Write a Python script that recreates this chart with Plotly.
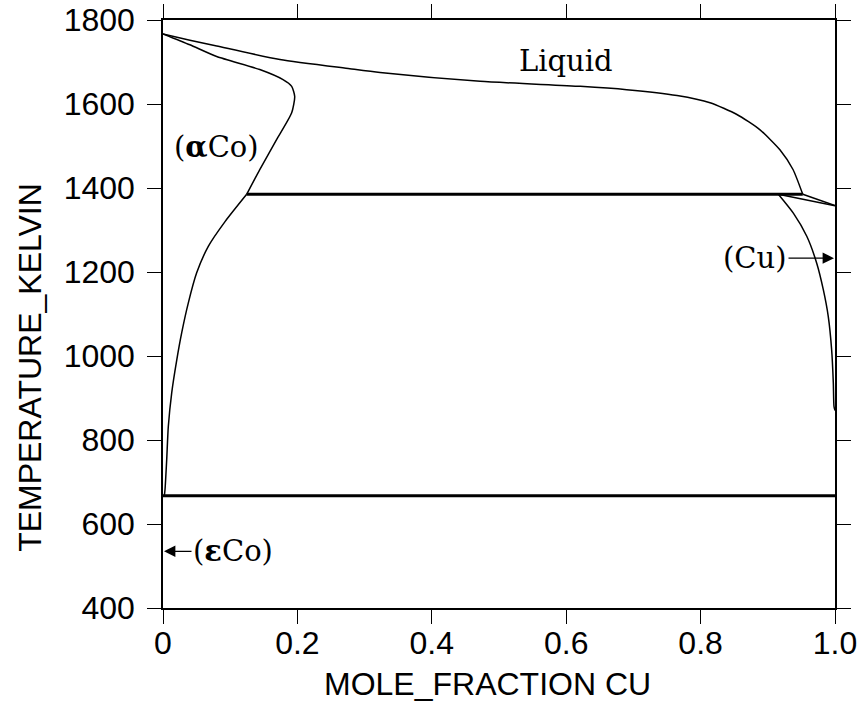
import plotly.graph_objects as go

# ---- data (mole fraction Cu, temperature K) ----
liq_x = [0, 0.04, 0.08, 0.174, 0.278, 0.323, 0.472, 0.621, 0.690, 0.765, 0.814,
         0.854, 0.888, 0.918, 0.9375, 0.952]
liq_T = [1767, 1752, 1738, 1706, 1684, 1675, 1654, 1642, 1634, 1620, 1603,
         1575, 1539, 1491, 1444, 1385]

liqCu_x = [0.952, 1.0]
liqCu_T = [1385, 1358]

solA_x = [0, 0.04, 0.0799, 0.144, 0.1786, 0.1915, 0.196, 0.1915, 0.169, 0.144, 0.1245]
solA_T = [1767, 1741, 1713, 1682, 1658, 1642, 1618, 1579, 1515, 1444, 1385]

solvA_x = [0.1245, 0.0923, 0.0674, 0.0501, 0.0376, 0.0278, 0.0205, 0.013, 0.0079,
           0.0055, 0.003, 0.002]
solvA_T = [1385, 1320, 1261, 1198, 1126, 1055, 991, 913, 832, 753, 682, 667]

solCu_x = [0.9157, 1.0]
solCu_T = [1385, 1358]

solvCu_x = [0.9157, 0.938, 0.958, 0.9728, 0.9826, 0.99, 0.995, 0.9975, 0.9985, 1.0]
solvCu_T = [1385, 1340, 1285, 1221, 1158, 1094, 1015, 936, 880, 870]

perit_x = [0.1245, 0.952]
perit_T = [1385, 1385]

low_x = [0, 1.0]
low_T = [667, 667]

x_ticks = [0, 0.2, 0.4, 0.6, 0.8, 1.0]
x_ticktext = ["0", "0.2", "0.4", "0.6", "0.8", "1.0"]
y_ticks = [400, 600, 800, 1000, 1200, 1400, 1600, 1800]

labels = ["Liquid", "(<b>α</b>Co)"]
label_x = [0.60, 0.080]
label_T = [1703, 1498]

fig = go.Figure()
thin = dict(color="black", width=1.5)
thick = dict(color="black", width=3)
for xs, ys, ln, shp in [
    (liq_x, liq_T, thin, "spline"),
    (liqCu_x, liqCu_T, thin, "linear"),
    (solA_x, solA_T, thin, "spline"),
    (solvA_x, solvA_T, thin, "spline"),
    (solCu_x, solCu_T, thin, "linear"),
    (solvCu_x, solvCu_T, thin, "spline"),
    (perit_x, perit_T, thick, "linear"),
    (low_x, low_T, thick, "linear"),
]:
    fig.add_trace(go.Scatter(x=xs, y=ys, mode="lines",
                             line=dict(ln, shape=shp, smoothing=0.6),
                             showlegend=False, hoverinfo="skip"))

serif = dict(family="DejaVu Serif", size=29, color="black")
sans = dict(family="Liberation Sans", size=32, color="black")

for t, x, y in zip(labels, label_x, label_T):
    fig.add_annotation(x=x, y=y, text=t, showarrow=False, font=serif,
                       xanchor="center", yanchor="middle")

fig.add_annotation(x=1.0, y=1233, text="(Cu)", showarrow=True, ax=-80, ay=0,
                   arrowhead=2, arrowsize=1.9, arrowwidth=1.2, arrowcolor="black",
                   font=serif, standoff=1)
fig.add_annotation(x=0.0, y=535, text="(<b>ε</b>Co)", showarrow=True, ax=70, ay=0,
                   arrowhead=2, arrowsize=1.9, arrowwidth=1.2, arrowcolor="black",
                   font=serif, standoff=1)

# axis titles
fig.add_annotation(xref="paper", yref="paper", x=0.483, y=-0.130,
                   text="MOLE_FRACTION CU", showarrow=False, font=sans,
                   xanchor="center", yanchor="middle")
fig.add_annotation(xref="paper", yref="paper", x=-0.198, y=0.41,
                   text="TEMPERATURE_KELVIN", showarrow=False, font=sans,
                   textangle=-90, xanchor="center", yanchor="middle")

axis_common = dict(showline=True, linecolor="black", linewidth=1.5, mirror="ticks",
                   ticks="outside", ticklen=14, tickwidth=1.3, tickcolor="black",
                   showgrid=False, zeroline=False, tickfont=sans, automargin=False,
                   ticklabeloverflow="allow")
fig.update_xaxes(range=[0, 1.0], tickvals=x_ticks, ticktext=x_ticktext,
                 ticklabelstandoff=-8, **axis_common)
fig.update_yaxes(range=[400, 1800], tickvals=y_ticks, ticklabelstandoff=6, **axis_common)

fig.update_layout(width=860, height=705,
                  margin=dict(l=163, r=25, t=20, b=97, autoexpand=False),
                  paper_bgcolor="white", plot_bgcolor="white")

fig.write_html("out.html",
               config={"displayModeBar": False},
               post_script="document.body.style.margin='0';"
                           "document.body.style.overflow='hidden';")
